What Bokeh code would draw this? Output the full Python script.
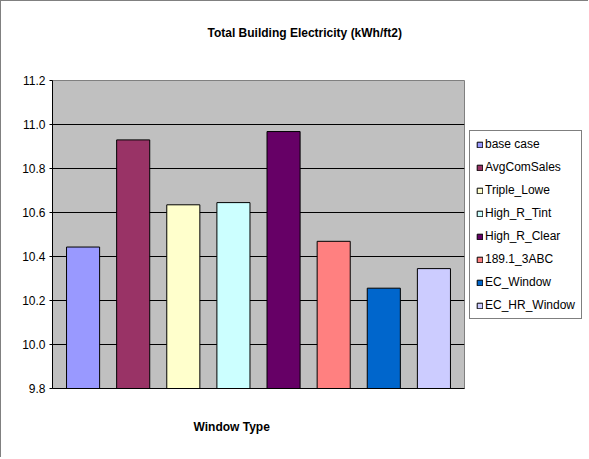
from bokeh.plotting import figure
from bokeh.layouts import row
from bokeh.models import ColumnDataSource, FactorRange, FixedTicker, PrintfTickFormatter, Title
from bokeh.embed import file_html
from bokeh.resources import INLINE

categories = ["base case", "AvgComSales", "Triple_Lowe", "High_R_Tint",
              "High_R_Clear", "189.1_3ABC", "EC_Window", "EC_HR_Window"]
values = [10.443, 10.93, 10.635, 10.645, 10.968, 10.469, 10.256, 10.345]
colors = ["#9999FF", "#993366", "#FFFFCC", "#CCFFFF",
          "#660066", "#FF8080", "#0066CC", "#CCCCFF"]
y_ticks = [9.8, 10.0, 10.2, 10.4, 10.6, 10.8, 11.0, 11.2]
grid_ticks = [10.0, 10.2, 10.4, 10.6, 10.8, 11.0]
y_min, y_max = 9.8, 11.2
title_text = "Total Building Electricity (kWh/ft2)"
x_label = "Window Type"

FONT = "Liberation Sans"
H = 456

source = ColumnDataSource(dict(cat=categories, val=values, color=colors))

p = figure(width=465, height=H, output_backend="svg", toolbar_location=None,
           x_range=FactorRange(*categories, range_padding=0.0275),
           y_range=(y_min, y_max),
           min_border_left=51, min_border_right=2, min_border_top=79, min_border_bottom=H - 387)
p.title = None
p.background_fill_color = "#C0C0C0"
p.border_fill_color = "white"
p.outline_line_color = "#808080"
p.outline_line_width = 1

p.vbar(x="cat", top="val", bottom=y_min, width=0.66, source=source,
       fill_color="color", line_color="black", line_width=1)

# axes
p.yaxis.ticker = FixedTicker(ticks=y_ticks)
p.yaxis.formatter = PrintfTickFormatter(format="%.1f")
p.yaxis.major_label_text_font = FONT
p.yaxis.major_label_text_font_size = "12px"
p.yaxis.major_label_text_color = "black"
p.yaxis.major_tick_out = 3
p.yaxis.major_tick_in = 0
p.yaxis.minor_tick_line_color = None
p.yaxis.axis_line_color = "black"
p.yaxis.major_tick_line_color = "black"
p.yaxis.major_label_standoff = 4

p.xaxis.major_label_text_font_size = "0px"
p.xaxis.major_label_text_color = None
p.xaxis.major_tick_line_color = None
p.xaxis.minor_tick_line_color = None
p.xaxis.axis_line_color = "black"

p.xgrid.grid_line_color = None
p.ygrid.ticker = FixedTicker(ticks=grid_ticks)
p.ygrid.grid_line_color = "black"
p.ygrid.grid_line_width = 1

# spacer between frame and title, then the title itself
p.add_layout(Title(text=" ", text_font_size="1px", standoff=38), "above")
p.add_layout(Title(text=title_text, align="left", offset=155, standoff=0,
                   text_font=FONT, text_font_size="12px", text_font_style="bold",
                   text_color="black"), "above")
p.add_layout(Title(text=x_label, align="left", offset=141, standoff=46,
                   text_font=FONT, text_font_size="12px", text_font_style="bold",
                   text_color="black"), "below")

# legend panel: a second figure holding the legend (its bars are hidden)
pl = figure(width=122, height=H, output_backend="svg", toolbar_location=None,
            x_range=FactorRange(*categories), y_range=(y_min, y_max),
            min_border_left=0, min_border_right=0, min_border_top=0, min_border_bottom=0)
pl.title = None
pl.axis.visible = False
pl.grid.grid_line_color = None
pl.outline_line_color = None
pl.background_fill_color = "white"
pl.border_fill_color = "white"
rl = pl.vbar(x="cat", top="val", bottom=y_min, width=0.66, source=source,
             fill_color="color", line_color="black", line_width=1, legend_field="cat")
rl.visible = False

leg = pl.legend[0]
leg.location = (3, 69)
leg.border_line_color = "black"
leg.border_line_width = 1
leg.background_fill_color = "white"
leg.background_fill_alpha = 1
leg.inactive_fill_alpha = 0
leg.padding = 6
leg.spacing = 9
leg.margin = 0
leg.label_height = 12
leg.glyph_height = 7
leg.glyph_width = 7
leg.label_standoff = 2
leg.label_text_font = FONT
leg.label_text_font_size = "12px"
leg.label_text_color = "black"

layout = row(p, pl, spacing=0)
layout.styles = {"border-left": "1px solid #808080", "border-top": "1px solid #808080"}

open("out.html", "w").write(file_html(layout, INLINE))
